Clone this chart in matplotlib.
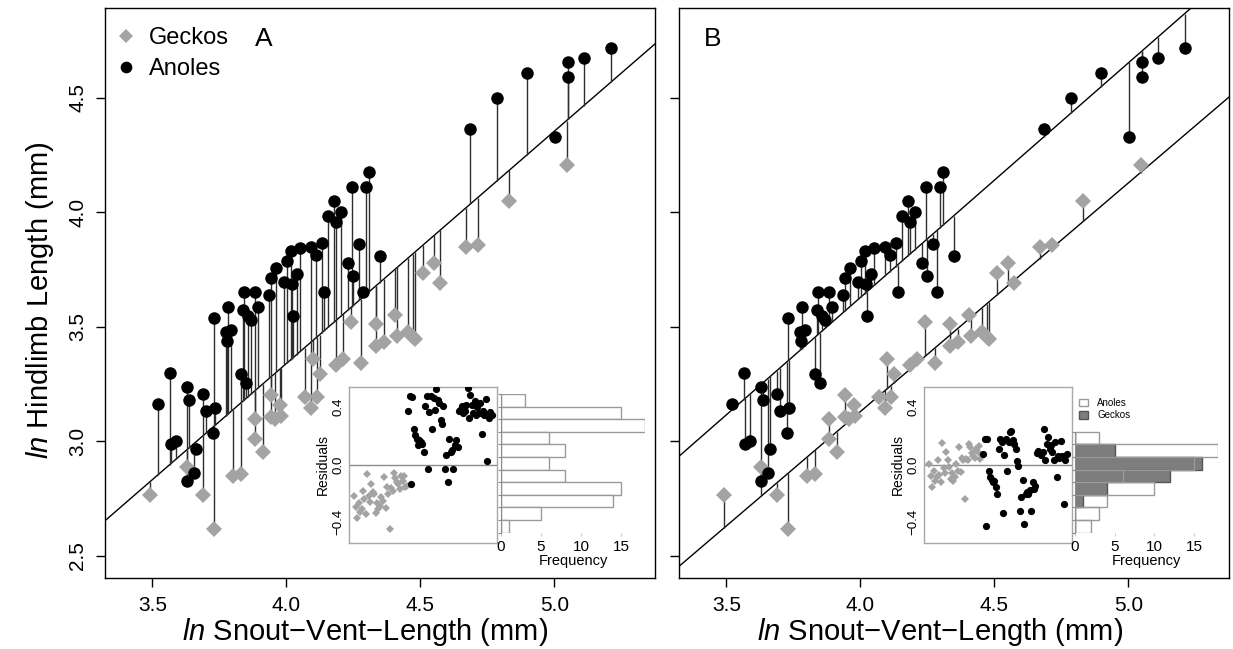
import matplotlib
matplotlib.use('Agg')
import matplotlib.pyplot as plt
from matplotlib.lines import Line2D
from matplotlib.patches import Patch
import numpy as np

plt.rcParams['font.family'] = ['Liberation Sans', 'DejaVu Sans']
plt.rcParams['mathtext.fontset'] = 'custom'
plt.rcParams['mathtext.it'] = 'Liberation Sans:italic'
plt.rcParams['mathtext.rm'] = 'Liberation Sans'

# ── data (ln SVL, ln hindlimb) ────────────────────────────────
anole_svl = [5.210, 5.110, 5.053, 5.053, 5.003, 4.899, 4.786, 4.685, 4.309, 4.296,
             4.245, 4.177, 4.157, 4.204, 4.184, 4.272, 4.348, 4.232, 4.249, 4.288,
             4.141, 4.132, 4.091, 4.111, 4.053, 4.017, 4.003, 3.963, 3.943, 4.039,
             3.993, 4.020, 3.843, 3.884, 3.937, 3.894, 3.839, 3.857, 3.869, 4.025,
             3.732, 3.782, 3.776, 3.795, 3.780, 3.830, 3.851, 3.565, 3.521, 3.630,
             3.636, 3.689, 3.701, 3.734, 3.726, 3.664, 3.571, 3.590, 3.654, 3.629]
anole_hl = [4.719, 4.672, 4.656, 4.589, 4.328, 4.609, 4.500, 4.366, 4.176, 4.111,
            4.111, 4.051, 3.983, 4.001, 3.958, 3.861, 3.811, 3.778, 3.723, 3.654,
            3.654, 3.866, 3.847, 3.813, 3.843, 3.831, 3.787, 3.756, 3.714, 3.729,
            3.694, 3.688, 3.654, 3.654, 3.641, 3.586, 3.574, 3.546, 3.528, 3.546,
            3.538, 3.589, 3.476, 3.487, 3.437, 3.294, 3.255, 3.297, 3.163, 3.239,
            3.181, 3.205, 3.131, 3.148, 3.035, 2.965, 2.988, 3.003, 2.864, 2.828]
gecko_svl = [5.046, 4.833, 4.669, 4.714, 4.553, 4.509, 4.573, 4.242, 4.333, 4.405,
             4.336, 4.363, 4.414, 4.454, 4.473, 4.479, 4.280, 4.212, 4.187, 4.100,
             4.124, 4.068, 4.114, 4.093, 3.490, 3.629, 3.689, 3.732, 3.801, 3.832,
             3.913, 3.882, 3.884, 3.944, 3.944, 3.975, 3.981, 3.959]
gecko_hl = [4.207, 4.048, 3.847, 3.859, 3.780, 3.736, 3.691, 3.521, 3.513, 3.553,
            3.418, 3.433, 3.462, 3.476, 3.458, 3.448, 3.341, 3.360, 3.334, 3.360,
            3.294, 3.195, 3.195, 3.148, 2.766, 2.890, 2.766, 2.620, 2.850, 2.857,
            2.952, 3.010, 3.098, 3.204, 3.106, 3.159, 3.112, 3.100]

# fitted lines (intercept, slope)
common_fit = (-0.716, 1.014)
anole_fit = (-0.468, 1.024)
gecko_fit = (-0.862, 0.998)

# residuals in data order (inset plots)
gecko_res_a = [-0.215, -0.292, -0.367, -0.269, -0.33, -0.309, -0.180, -0.239, -0.344, -0.063,
               -0.215, -0.262, -0.133, -0.19, -0.204, -0.332, -0.269, -0.309, -0.285, -0.227,
               -0.25, -0.082, -0.297, -0.157, -0.204, -0.444, -0.161, -0.180, -0.058, -0.091,
               -0.12, -0.133, -0.168, -0.075, -0.110, -0.08, -0.157, -0.145]
anole_res_a = [0.370, 0.475, -0.133, 0.470, 0.246, 0.206, 0.182, 0.136, 0.17, 0.159,
               0.147, 0.089, 0.405, 0.475, -0.028, 0.363, 0.480, 0.246, 0.463, 0.38,
               0.526, 0.451, 0.428, 0.311, 0.283, 0.405, -0.028, 0.065, -0.122, 0.182,
               0.089, 0.100, -0.028, 0.136, 0.171, 0.124, 0.370, 0.381, 0.405, 0.358,
               0.37, 0.416, 0.533, 0.323, 0.487, 0.416, 0.36, 0.440, 0.346, 0.40,
               0.358, 0.428, 0.213, 0.370, 0.346, 0.456, 0.023, 0.323, 0.363, 0.346]
gecko_res_b = [0.007, -0.075, -0.157, -0.040, -0.11, -0.086, 0.03, -0.068, -0.121, 0.152,
               -0.021, -0.058, 0.089, 0.030, -0.016, -0.098, -0.06, -0.11, -0.082, 0.007,
               -0.04, 0.124, -0.051, 0.049, 0.030, -0.238, 0.042, 0.030, 0.147, 0.124,
               0.082, 0.06, 0.049, 0.112, 0.09, 0.13, 0.042, 0.07]
anole_res_b = [0.072, 0.182, -0.428, 0.182, -0.044, -0.086, -0.105, -0.121, -0.110, -0.152,
               -0.203, 0.112, 0.182, 0.159, -0.332, 0.065, 0.182, -0.044, 0.159, 0.229,
               0.236, 0.171, 0.147, 0.112, 0.026, -0.012, -0.320, -0.222, -0.105, -0.409,
               -0.203, -0.192, -0.203, -0.175, -0.320, -0.121, -0.168, -0.145, 0.082, 0.096,
               0.082, 0.065, 0.089, 0.245, 0.035, 0.143, 0.194, 0.112, 0.136, 0.089,
               0.035, 0.159, -0.082, 0.058, 0.049, 0.164, 0.058, -0.273, 0.035, 0.072]

# residual histograms, bins listed top (high residual) to bottom
hist_a_all = [3, 15, 18, 6, 8, 6, 8, 15, 14, 5, 1]
hist_b_anoles = [3, 18, 15, 6, 10, 4, 3, 2]
hist_b_geckos = [0, 5, 16, 12, 4, 1, 0, 0]

W, H = 1233, 649
GRAY = '#a3a3a3'


def rect(l, t, r, b):
    return [l / W, 1 - b / H, (r - l) / W, (b - t) / H]


def fitted(fit, x):
    return fit[0] + fit[1] * np.asarray(x)


fig = plt.figure(figsize=(W / 100, H / 100), dpi=100)


# ── main panels ───────────────────────────────────────────────
def main_panel(ax, fit_a, fit_g, letter, letter_x, ylabels):
    for fit in {fit_a, fit_g}:
        ax.axline((0, fit[0]), slope=fit[1], color='black', lw=1, zorder=1)
    ax.vlines(anole_svl, anole_hl, fitted(fit_a, anole_svl), color='#2e2e2e', lw=1, zorder=2)
    ax.vlines(gecko_svl, gecko_hl, fitted(fit_g, gecko_svl), color='#2e2e2e', lw=1, zorder=2)
    ax.plot(gecko_svl, gecko_hl, 'D', color=GRAY, ms=7.8, mew=0, zorder=3)
    ax.plot(anole_svl, anole_hl, 'o', color='black', ms=9, mew=0, zorder=4)
    ax.set_xlim(3.3235, 5.376)
    ax.set_ylim(2.404, 4.892)
    ax.set_xticks([3.5, 4.0, 4.5, 5.0])
    ax.set_xticklabels(['3.5', '4.0', '4.5', '5.0'])
    ax.set_yticks([2.5, 3.0, 3.5, 4.0, 4.5])
    if ylabels:
        ax.set_yticklabels(['2.5', '3.0', '3.5', '4.0', '4.5'], rotation=90, va='center')
    else:
        ax.set_yticklabels([])
    ax.tick_params(direction='out', length=6.7, width=1, labelsize=15, pad=6)
    for s in ax.spines.values():
        s.set_linewidth(1)
    ax.text(letter_x, 0.945, letter, transform=ax.transAxes, fontsize=19,
            ha='center', va='center')


axA = fig.add_axes(rect(105, 8, 655, 578))
axB = fig.add_axes(rect(679, 8, 1229, 578))
main_panel(axA, common_fit, common_fit, 'A', 0.289, True)
main_panel(axB, anole_fit, gecko_fit, 'B', 0.062, False)

handles = [Line2D([], [], marker='D', color=GRAY, ls='', ms=7.0, mew=0),
           Line2D([], [], marker='o', color='black', ls='', ms=8.4, mew=0)]
axA.legend(handles, ['Geckos', 'Anoles'], loc='upper left', bbox_to_anchor=(0, 0.983),
           frameon=False, fontsize=17, handlelength=1.0, handletextpad=0.45,
           labelspacing=0.38, borderaxespad=0, borderpad=0.4)

xlab = r'$\mathit{ln}$ Snout' + '\u2212Vent\u2212Length (mm)'
fig.text(365 / W, 1 - 632 / H, xlab, fontsize=21, ha='center', va='center')
fig.text(940 / W, 1 - 632 / H, xlab, fontsize=21, ha='center', va='center')
fig.text(40 / W, 1 - 300 / H, r'$\mathit{ln}$ Hindlimb Length (mm)', fontsize=21,
         rotation=90, ha='center', va='center')


# ── insets: residuals vs index and histograms ─────────────────
def resid_inset(pos, g_res, a_res):
    ax = fig.add_axes(pos)
    ng, na = len(g_res), len(a_res)
    idx = np.arange(1, ng + na + 1)
    ax.axhline(0, color='#8c8c8c', lw=1, zorder=1)
    ax.plot(idx[:ng], g_res, 'D', color=GRAY, ms=4.4, mew=0, zorder=2)
    ax.plot(idx[ng:], a_res, 'o', color='black', ms=5.2, mew=0, zorder=3)
    pad = 0.04 * (ng + na - 1)
    ax.set_xlim(1 - pad, ng + na + pad)
    ax.set_ylim(-0.54, 0.54)
    ax.set_xticks([])
    ax.set_yticks([-0.4, 0.0, 0.4])
    ax.set_yticklabels(['\u22120.4', '0.0', '0.4'], rotation=90, va='center')
    ax.tick_params(axis='y', length=0, labelsize=9.5, pad=3)
    ax.set_ylabel('Residuals', fontsize=10, labelpad=2)
    for s in ax.spines.values():
        s.set_color('#a8a8a8')
        s.set_linewidth(1)
    return ax


def hist_inset(pos, nbins):
    ax = fig.add_axes(pos)
    ax.patch.set_alpha(0)
    ax.set_xlim(0, 18)
    ax.set_ylim(0, 11)
    for side in ['top', 'right', 'bottom']:
        ax.spines[side].set_visible(False)
    ax.spines['left'].set_bounds(0, nbins)
    ax.spines['left'].set_color('#8c8c8c')
    ax.set_yticks(np.arange(nbins + 1))
    ax.set_yticklabels([])
    ax.tick_params(axis='y', length=2, color='#8c8c8c')
    ax.set_xticks([0, 5, 10, 15])
    ax.tick_params(axis='x', length=2, color='#cccccc', labelsize=11, pad=3)
    ax.set_xlabel('Frequency', fontsize=10.5, labelpad=0)
    return ax


resid_inset(rect(349, 387, 497, 542.5), gecko_res_a, anole_res_a)
resid_inset(rect(924, 387, 1072, 542.5), gecko_res_b, anole_res_b)

hA = hist_inset(rect(501, 394, 645, 532.7), len(hist_a_all))
n = len(hist_a_all)
hA.barh(np.arange(n)[::-1], hist_a_all, height=1, align='edge',
        color='white', edgecolor='#9a9a9a', lw=1)

hB = hist_inset(rect(1075, 394, 1218, 532.7), len(hist_b_anoles))
n = len(hist_b_anoles)
hB.barh(np.arange(n)[::-1], hist_b_geckos, height=1, align='edge',
        color='#7d7d7d', edgecolor='#555555', lw=1)
hB.barh(np.arange(n)[::-1], hist_b_anoles, height=1, align='edge',
        color='none', edgecolor='#9a9a9a', lw=1)
hB.legend([Patch(facecolor='white', edgecolor='#9a9a9a'),
           Patch(facecolor='#7d7d7d', edgecolor='#555555')], ['Anoles', 'Geckos'],
          loc='upper left', bbox_to_anchor=(0, 1.0), frameon=False, fontsize=7,
          handlelength=0.9, handleheight=0.8, handletextpad=1.0,
          labelspacing=0.25, borderaxespad=0, borderpad=0.4)

plt.savefig('out.png', dpi=100)
